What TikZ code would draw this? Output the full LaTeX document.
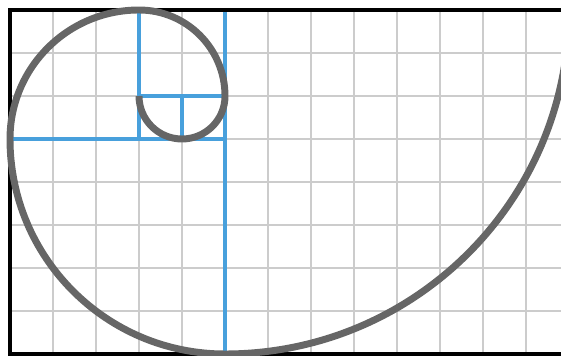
\documentclass[tikz,border=0pt]{standalone}
\usepackage{tikz}
\usepackage{xcolor}
\definecolor{spiralGray}{RGB}{102,102,102}
\definecolor{fibBlue}{RGB}{72,160,220}
\definecolor{gridGray}{RGB}{204,204,204}
\tikzset{
    gridline/.style={draw=gridGray, line width=1.3pt},
    squareline/.style={draw=fibBlue, line width=2.4pt},
    spiralline/.style={draw=spiralGray, line width=4.6pt},
    frameline/.style={draw=black, line width=2.6pt}
}

\begin{document}
\begin{tikzpicture}
            \useasboundingbox (-0.2326,-0.0465) rectangle (12.814,8.2326);
            \clip (-0.2326,-0.0465) rectangle (12.814,8.2326);
            \draw[gridline] (0,0) grid (13,8);
            % squares of the tiling
            \draw[squareline] (5,0) -- (5,8);
            \draw[squareline] (0,5) -- (5,5);
            \draw[squareline] (3,8) -- (3,5);
            \draw[squareline] (3,6) -- (5,6);
            \draw[squareline] (4,6) -- (4,5);
            \draw[frameline] (13,8) -- (0,8) -- (0,0) -- (13,0);
            % spiral, one quarter arc per square
            \coordinate (start) at (3,6);
            \draw[spiralline] (start)
                arc[start angle=180, end angle=270, radius=1]
                arc[start angle=270, end angle=360, radius=1]
                arc[start angle=0, end angle=90, radius=2]
                arc[start angle=90, end angle=180, radius=3]
                arc[start angle=180, end angle=270, radius=5]
                arc[start angle=270, end angle=360, radius=8];
        \end{tikzpicture}
\end{document}
